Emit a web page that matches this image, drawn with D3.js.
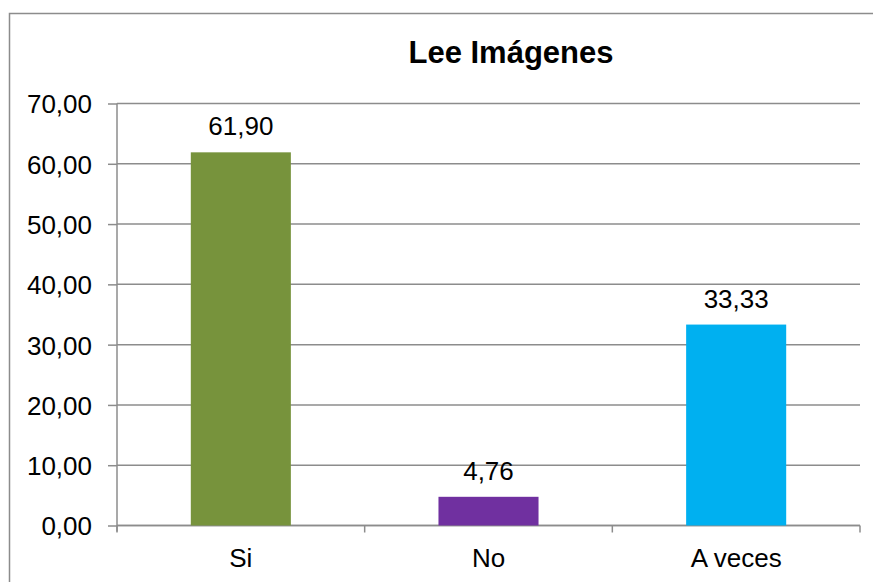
<!DOCTYPE html>
<html>
<head>
<meta charset="utf-8">
<script src="https://cdn.jsdelivr.net/npm/d3@7"></script>
<style>
  body { margin: 0; background: #fff; }
  text { font-family: "Liberation Sans", Arial, sans-serif; fill: #000; }
</style>
</head>
<body>
<svg id="chart" width="873" height="582"></svg>
<script>
var categories = ["Si", "No", "A veces"];
var values = [61.90, 4.76, 33.33];
var colors = ["#77933C", "#7030A0", "#00B0F0"];
var yTicks = [0, 10, 20, 30, 40, 50, 60, 70];
var title = "Lee Imágenes";

var svg = d3.select("#chart");
var margin = { top: 103.5, right: 13, bottom: 56.5, left: 117 },
  width = +svg.attr("width") - margin.left - margin.right,
  height = +svg.attr("height") - margin.top - margin.bottom;

var fmt = function (v) { return v.toFixed(2).replace(".", ","); };

// chart frame (cut off at right and bottom like the original)
svg.append("rect")
  .attr("x", 9.5).attr("y", 13.5)
  .attr("width", 900).attr("height", 600)
  .attr("fill", "none")
  .attr("stroke", "#8c8c8c")
  .attr("stroke-width", 1.5);

svg.append("text")
  .attr("x", 511).attr("y", 63)
  .attr("text-anchor", "middle")
  .style("font-size", "31px")
  .style("font-weight", "bold")
  .text(title);

var g = svg.append("g")
  .attr("transform", "translate(" + margin.left + "," + margin.top + ")");

var x = d3.scaleBand().domain(categories).range([0, width])
  .paddingInner(0.596).paddingOuter(0.298);
var y = d3.scaleLinear().domain([0, 70]).range([height, 0]);

// gridlines
g.selectAll(".grid")
  .data(yTicks)
  .enter().append("line")
  .attr("class", "grid")
  .attr("x1", 0).attr("x2", width)
  .attr("y1", function (d) { return y(d); })
  .attr("y2", function (d) { return y(d); })
  .attr("stroke", "#8c8c8c")
  .attr("stroke-width", 1.5);

// y axis
var yAxis = g.append("g")
  .call(d3.axisLeft(y).tickValues(yTicks).tickFormat(fmt).tickSize(9).tickPadding(16));
yAxis.select(".domain").attr("stroke", "#8c8c8c").attr("stroke-width", 1.5)
  .attr("d", "M0," + (height + 6) + "V0");
yAxis.selectAll(".tick line").attr("stroke", "#8c8c8c").attr("stroke-width", 1.5);
yAxis.selectAll(".tick text").style("font-size", "26px").attr("dy", "0.36em");

// x axis: ticks at category boundaries
var xb = g.append("g").attr("transform", "translate(0," + height + ")");
xb.append("line")
  .attr("x1", 0).attr("x2", width)
  .attr("stroke", "#8c8c8c").attr("stroke-width", 1.5);
var bounds = d3.range(categories.length + 1).map(function (i) { return i * x.step(); });
xb.selectAll(".xt")
  .data(bounds)
  .enter().append("line")
  .attr("class", "xt")
  .attr("x1", function (d) { return d; })
  .attr("x2", function (d) { return d; })
  .attr("y1", 0).attr("y2", 7)
  .attr("stroke", "#8c8c8c").attr("stroke-width", 1.5);
xb.selectAll(".xl")
  .data(categories)
  .enter().append("text")
  .attr("class", "xl")
  .attr("x", function (d) { return x(d) + x.bandwidth() / 2; })
  .attr("y", 41)
  .attr("text-anchor", "middle")
  .style("font-size", "26px")
  .text(function (d) { return d; });

// bars
g.selectAll(".bar")
  .data(values)
  .enter().append("rect")
  .attr("class", "bar")
  .attr("x", function (d, i) { return x(categories[i]); })
  .attr("y", function (d) { return y(d); })
  .attr("width", x.bandwidth())
  .attr("height", function (d) { return height - y(d); })
  .attr("fill", function (d, i) { return colors[i]; });

// value labels
g.selectAll(".val")
  .data(values)
  .enter().append("text")
  .attr("class", "val")
  .attr("x", function (d, i) { return x(categories[i]) + x.bandwidth() / 2; })
  .attr("y", function (d) { return y(d) - 17; })
  .attr("text-anchor", "middle")
  .style("font-size", "26px")
  .text(function (d) { return fmt(d); });
</script>
</body>
</html>
